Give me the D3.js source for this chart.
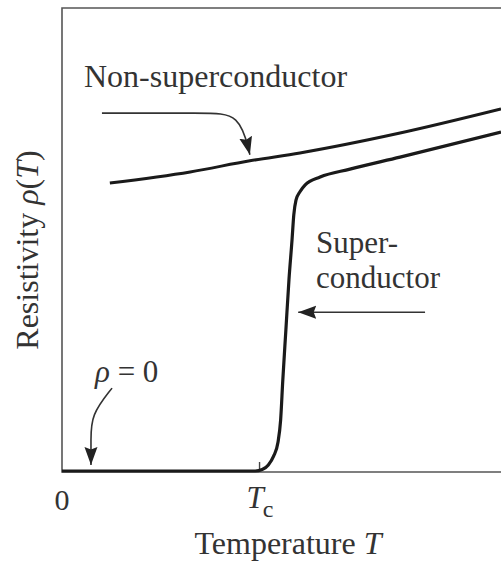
<!DOCTYPE html>
<html>
<head>
<meta charset="utf-8">
<script src="https://cdn.jsdelivr.net/npm/d3@7"></script>
<style>
  body { margin: 0; background: #fff; }
  text { font-family: "Liberation Serif", "DejaVu Serif", serif; fill: #333; }
</style>
</head>
<body>
<div id="chart"></div>
<script>
// temperature / resistivity in arbitrary units (T: 0..10, rho: 0..10)
const tc = 4.5;
const normalT   = [1.09, 2.92, 4.28, 5.42, 7.70, 10.0];
const normalRho = [6.22, 6.46, 6.70, 6.87, 7.30, 7.82];

const superT   = [0, 4.40, 4.56, 4.70, 4.82, 4.92, 4.98, 5.03, 5.10, 5.17, 5.24, 5.28, 5.33, 5.42, 5.54, 5.88, 6.56, 7.70, 10.0];
const superRho = [0, 0,    0.03, 0.13, 0.32, 0.62, 1.10, 1.97, 3.05, 4.13, 4.99, 5.53, 5.85, 6.03, 6.18, 6.35, 6.52, 6.78, 7.32];

const tickLabels = ["0", "T", "c"];

// annotation arrows, in data units
const arrowNormal = [[0.91, 7.73], [3.26, 7.73], [4.05, 7.73], [4.28, 6.83]];
const arrowSuper  = [[8.27, 3.43], [5.38, 3.43]];
const arrowZero   = [[1.14, 1.79], [0.66, 1.21], [0.66, 0.67], [0.66, 0.13]];

function init() {
  const width = 501, height = 567;
  const margin = { top: 8, left: 62, bottom: 96 };

  const svg = d3.select("#chart")
                .append("svg")
                .attr("width", width)
                .attr("height", height);

  const x = d3.scaleLinear().domain([0, 10]).range([margin.left, width]);
  const y = d3.scaleLinear().domain([0, 10]).range([height - margin.bottom, margin.top]);

  // arrow head
  svg.append("defs").append("marker")
      .attr("id", "head")
      .attr("markerUnits", "userSpaceOnUse")
      .attr("viewBox", "0 -8 20 16")
      .attr("refX", 18)
      .attr("refY", 0)
      .attr("markerWidth", 20)
      .attr("markerHeight", 16)
      .attr("orient", "auto")
    .append("path")
      .attr("d", "M0,-6.5L18,0L0,6.5L2.5,0Z")
      .attr("fill", "#222");

  // frame (right side runs off the picture)
  const frame = d3.path();
  frame.moveTo(x(11), y(10));
  frame.lineTo(x(0), y(10));
  frame.lineTo(x(0), y(0) + 1);
  frame.lineTo(x(11), y(0) + 1);
  svg.append("path")
      .attr("d", frame.toString())
      .attr("fill", "none")
      .attr("stroke", "#555")
      .attr("stroke-width", 1.6);

  // Tc tick
  svg.append("line")
      .attr("x1", x(tc)).attr("x2", x(tc))
      .attr("y1", y(0) - 9).attr("y2", y(0))
      .attr("stroke", "#444")
      .attr("stroke-width", 1.4);

  const line = d3.line()
      .x(d => x(d[0]))
      .y(d => y(d[1]))
      .curve(d3.curveMonotoneX);

  svg.append("path")
      .attr("d", line(normalT.map((t, i) => [t, normalRho[i]])))
      .attr("fill", "none")
      .attr("stroke", "#1a1a1a")
      .attr("stroke-width", 3);

  svg.append("path")
      .attr("d", line(superT.map((t, i) => [t, superRho[i]])))
      .attr("fill", "none")
      .attr("stroke", "#1a1a1a")
      .attr("stroke-width", 3.2);

  // arrows
  const curvy = d3.line().x(d => x(d[0])).y(d => y(d[1])).curve(d3.curveBasis);
  [arrowNormal, arrowSuper, arrowZero].forEach(a => {
    svg.append("path")
        .attr("d", curvy(a))
        .attr("fill", "none")
        .attr("stroke", "#333")
        .attr("stroke-width", 1.6)
        .attr("marker-end", "url(#head)");
  });

  // tick labels
  svg.append("text")
      .attr("x", x(0)).attr("y", 510)
      .attr("text-anchor", "middle")
      .style("font-size", "30px")
      .text(tickLabels[0]);

  const tcLabel = svg.append("text")
      .attr("x", x(tc) - 13).attr("y", 508)
      .style("font-size", "31px");
  tcLabel.append("tspan").style("font-style", "italic").text(tickLabels[1]);
  tcLabel.append("tspan").attr("dy", 9).attr("dx", -1).style("font-size", "24px").text(tickLabels[2]);

  // axis titles
  const xt = svg.append("text")
      .attr("x", 288).attr("y", 554)
      .attr("text-anchor", "middle")
      .style("font-size", "32px");
  xt.append("tspan").text("Temperature ");
  xt.append("tspan").style("font-style", "italic").text("T");

  const yt = svg.append("text")
      .attr("transform", "translate(38,250) rotate(-90)")
      .attr("text-anchor", "middle")
      .style("font-size", "32px");
  yt.append("tspan").text("Resistivity ");
  yt.append("tspan").style("font-style", "italic").text("ρ");
  yt.append("tspan").text("(");
  yt.append("tspan").style("font-style", "italic").text("T");
  yt.append("tspan").text(")");

  // curve labels
  svg.append("text")
      .attr("x", 84).attr("y", 87)
      .style("font-size", "32px")
      .text("Non-superconductor");

  svg.append("text")
      .attr("x", 316).attr("y", 253)
      .style("font-size", "31px")
      .text("Super-");
  svg.append("text")
      .attr("x", 316).attr("y", 288)
      .style("font-size", "31px")
      .text("conductor");

  const rz = svg.append("text")
      .attr("x", 95).attr("y", 382)
      .style("font-size", "31px");
  rz.append("tspan").style("font-style", "italic").text("ρ");
  rz.append("tspan").text(" = 0");
}

window.onload = init;
</script>
</body>
</html>
